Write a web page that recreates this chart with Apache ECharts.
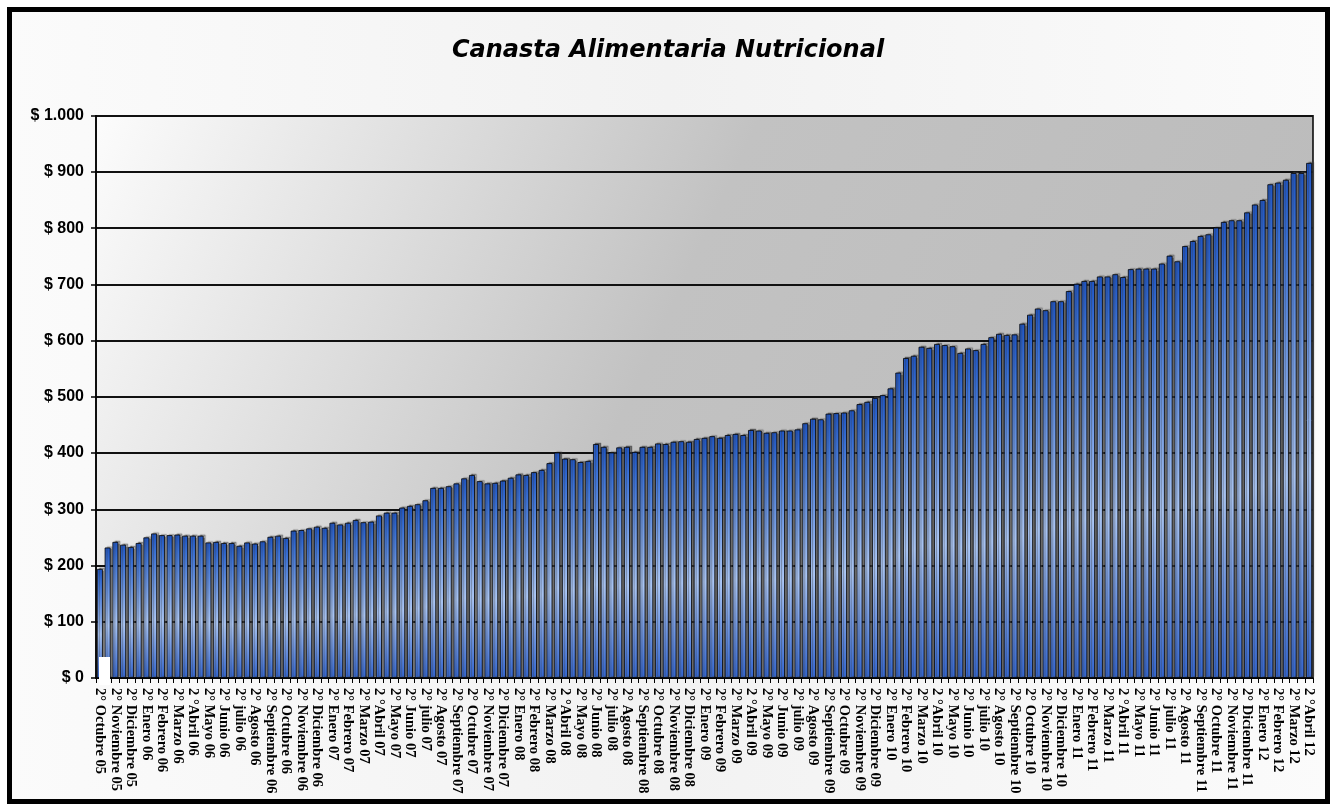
<!DOCTYPE html>
<html>
<head>
<meta charset="utf-8">
<script src="https://cdn.jsdelivr.net/npm/echarts@6/dist/echarts.min.js"></script>
<style>
  html, body { margin: 0; padding: 0; background: #ffffff; }
  #chart { width: 1336px; height: 809px; }
</style>
</head>
<body>
<div id="chart"></div>
<script>
// ---- Data ----
const titulo = 'Canasta Alimentaria Nutricional';

// Month names used on the category axis
const nombresMeses = ['Enero', 'Febrero', 'Marzo', 'Abril', 'Mayo', 'Junio', 'julio', 'Agosto', 'Septiembre', 'Octubre', 'Noviembre', 'Diciembre'];

// Values per year (two fortnights per month; 2005 starts at 2° Octubre)
const valores2005 = [194, 232, 242, 237, 233];
const valores2006 = [240, 250, 257, 254, 254, 255, 253, 253, 253, 241, 242, 240, 240, 235, 241, 239, 243, 251, 253, 249, 262, 263, 266, 269];
const valores2007 = [267, 276, 273, 276, 281, 277, 278, 289, 294, 294, 303, 306, 309, 316, 338, 338, 341, 346, 355, 361, 350, 346, 347, 351];
const valores2008 = [356, 362, 361, 366, 370, 382, 401, 390, 389, 384, 386, 416, 411, 401, 410, 411, 402, 411, 411, 417, 416, 420, 421, 420];
const valores2009 = [425, 427, 430, 427, 432, 434, 432, 441, 440, 436, 437, 440, 440, 442, 453, 461, 460, 470, 471, 472, 476, 487, 491, 498];
const valores2010 = [503, 515, 543, 569, 573, 589, 587, 594, 592, 590, 578, 586, 583, 594, 606, 612, 610, 611, 630, 646, 657, 654, 670, 670];
const valores2011 = [688, 701, 706, 706, 714, 714, 718, 713, 727, 728, 728, 728, 737, 751, 741, 768, 777, 786, 789, 801, 811, 814, 814, 828];
const valores2012 = [842, 850, 878, 881, 886, 898, 898, 916];

// y-axis ticks
const yTicks = [0, 100, 200, 300, 400, 500, 600, 700, 800, 900, 1000];

// ---- Build categories ----
function etiqueta(q, mes, yy) {
  if (mes === 'Abril') return q + ' °' + mes + ' ' + yy;
  return q + '° ' + mes + ' ' + yy;
}
const categorias = [];
categorias.push(etiqueta(2, 'Octubre', '05'));
const mesesSecuencia = [];
mesesSecuencia.push(['Noviembre', '05'], ['Diciembre', '05']);
['06', '07', '08', '09', '10', '11'].forEach(yy => nombresMeses.forEach(m => mesesSecuencia.push([m, yy])));
['Enero', 'Febrero', 'Marzo', 'Abril'].forEach(m => mesesSecuencia.push([m, '12']));
mesesSecuencia.forEach(([m, yy]) => {
  categorias.push(etiqueta(1, m, yy));
  categorias.push(etiqueta(2, m, yy));
});
const valores = [].concat(valores2005, valores2006, valores2007, valores2008, valores2009, valores2010, valores2011, valores2012);

// ---- Chart ----
const chart = echarts.init(document.getElementById('chart'), null, { renderer: 'canvas' });

function fmtPeso(v) {
  const s = String(v).replace(/\B(?=(\d{3})+(?!\d))/g, '.');
  return '$ ' + s;
}

const option = {
  animation: false,
  backgroundColor: '#ffffff',
  graphic: [
    {
      type: 'rect', z: -10, silent: true,
      shape: { x: 9.5, y: 9.5, width: 1318, height: 792 },
      style: {
        fill: new echarts.graphic.LinearGradient(0, 0, 1, 0, [
          { offset: 0, color: '#fbfbfb' },
          { offset: 0.5, color: '#f2f2f2' },
          { offset: 1, color: '#fbfbfb' }
        ]),
        stroke: '#000000', lineWidth: 5
      }
    },
    {
      type: 'rect', z: 100, silent: true,
      shape: { x: 99, y: 657, width: 11, height: 28 },
      style: { fill: '#ffffff' }
    }
  ],
  title: {
    text: titulo,
    left: 'center',
    top: 34,
    textStyle: {
      fontFamily: 'DejaVu Sans',
      fontSize: 24,
      fontWeight: 'bold',
      fontStyle: 'italic',
      color: '#000000'
    }
  },
  grid: {
    left: 96, right: 23, top: 115.7, bottom: 131,
    show: true,
    backgroundColor: new echarts.graphic.LinearGradient(0, 0, 1, 1, [
      { offset: 0, color: '#fcfcfc' },
      { offset: 0.45, color: '#c2c2c2' },
      { offset: 1, color: '#bababa' }
    ]),
    borderColor: '#000000',
    borderWidth: 1.5
  },
  xAxis: {
    type: 'category',
    data: categorias,
    boundaryGap: true,
    axisLine: { show: true, lineStyle: { color: '#000000', width: 1.5 } },
    axisTick: { show: true, interval: 0, length: 5, lineStyle: { color: '#000000', width: 1 } },
    axisLabel: {
      interval: 1,
      rotate: -90,
      margin: 10,
      fontFamily: 'Liberation Serif',
      fontWeight: 'bold',
      fontSize: 14.5,
      color: '#000000'
    },
    splitLine: { show: false }
  },
  yAxis: {
    type: 'value',
    min: 0, max: 1000, interval: 100,
    axisLine: { show: true, lineStyle: { color: '#000000', width: 1.5 } },
    axisTick: { show: true, length: 5, lineStyle: { color: '#000000', width: 1.5 } },
    axisLabel: {
      margin: 12,
      fontFamily: 'Liberation Sans',
      fontWeight: 'bold',
      fontSize: 16,
      color: '#000000',
      formatter: v => yTicks.includes(v) ? fmtPeso(v) : ''
    },
    splitLine: { show: true, lineStyle: { color: '#111111', width: 2 } }
  },
  series: [{
    type: 'bar',
    data: valores,
    barCategoryGap: '24%',
    itemStyle: {
      color: new echarts.graphic.LinearGradient(0, 0, 0, 1, [
        { offset: 0, color: '#1f56c6' },
        { offset: 0.12, color: '#3a72da' },
        { offset: 0.6, color: '#abc7f6' },
        { offset: 1, color: '#3366d2' }
      ]),
      borderColor: '#000000',
      borderWidth: 0.8,
      shadowColor: 'rgba(60,60,60,0.6)',
      shadowBlur: 1,
      shadowOffsetX: 2,
      shadowOffsetY: -1
    }
  }]
};
chart.setOption(option);
</script>
</body>
</html>
